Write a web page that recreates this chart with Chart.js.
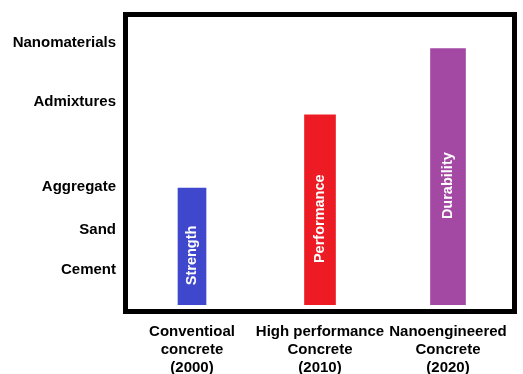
<!DOCTYPE html>
<html>
<head>
<meta charset="utf-8">
<script src="https://cdn.jsdelivr.net/npm/chart.js@4.4.1/dist/chart.umd.min.js"></script>
<style>
  html, body { margin: 0; padding: 0; background: #ffffff; }
  #wrap { width: 523px; height: 374px; }
</style>
</head>
<body>
<div id="wrap"><canvas id="c" width="523" height="374"></canvas></div>
<script>
// Concrete generations along the x axis
const categories = [
  ['Conventioal', 'concrete', '(2000)'],
  ['High performance', 'Concrete', '(2010)'],
  ['Nanoengineered', 'Concrete', '(2020)']
];
// Level reached by each generation and the word written inside its bar
const barValues = [40.5, 66, 89];
const barWords = ['Strength', 'Performance', 'Durability'];
const barColors = ['#3F48CC', '#ED1C24', '#A349A4'];
const barWidths = [28, 31, 35];

// Ingredient levels on the y axis
const tickValues = [12, 26, 41, 70.5, 91];
const tickLabels = ['Cement', 'Sand', 'Aggregate', 'Admixtures', 'Nanomaterials'];

const FONT = '"Liberation Sans", Arial, sans-serif';

const datasets = barValues.map((v, i) => ({
  label: barWords[i],
  data: barValues.map((_, j) => (j === i ? v : null)),
  backgroundColor: barColors[i],
  barThickness: barWidths[i],
  borderWidth: 0,
  grouped: false,
  skipNull: true
}));

// Thick frame around the plot area
const framePlugin = {
  id: 'frame',
  afterDraw(chart) {
    const a = chart.chartArea;
    const ctx = chart.ctx;
    ctx.save();
    ctx.lineWidth = 5;
    ctx.strokeStyle = '#000000';
    ctx.strokeRect(a.left - 2.5, a.top - 2.5, a.right - a.left + 5, a.bottom - a.top + 5);
    ctx.restore();
  }
};

// Vertical white word inside each bar
const barTextPlugin = {
  id: 'barText',
  afterDatasetsDraw(chart) {
    const ctx = chart.ctx;
    chart.data.datasets.forEach((ds, i) => {
      const meta = chart.getDatasetMeta(i);
      const el = meta.data[i];
      if (!el) return;
      const cx = el.x;
      const cy = (el.y + el.base) / 2 + 9;
      ctx.save();
      ctx.translate(cx, cy);
      ctx.rotate(-Math.PI / 2);
      ctx.fillStyle = '#ffffff';
      ctx.font = 'bold 14.5px ' + FONT;
      ctx.textAlign = 'center';
      ctx.textBaseline = 'middle';
      ctx.fillText(ds.label, 0, 0);
      ctx.restore();
    });
  }
};

new Chart(document.getElementById('c'), {
  type: 'bar',
  data: { labels: categories, datasets },
  options: {
    responsive: false,
    animation: false,
    layout: { padding: { top: 17, right: 11, left: 0, bottom: 0 } },
    plugins: {
      legend: { display: false },
      tooltip: { enabled: false }
    },
    scales: {
      x: {
        grid: { display: false, drawTicks: false },
        border: { display: false },
        ticks: {
          color: '#000000',
          font: { family: FONT, size: 15, weight: 'bold', lineHeight: 1.2 },
          padding: 14,
          maxRotation: 0,
          autoSkip: false
        },
        afterFit(scale) { scale.height = 65; }
      },
      y: {
        min: -1.5,
        max: 100,
        grid: { display: false, drawTicks: false },
        border: { display: false },
        afterBuildTicks(scale) {
          scale.ticks = tickValues.map(v => ({ value: v }));
        },
        ticks: {
          color: '#000000',
          font: { family: FONT, size: 15, weight: 'bold' },
          padding: 12,
          autoSkip: false,
          callback(value, index) { return tickLabels[index]; }
        },
        afterFit(scale) {
          scale.width = 128;
          scale.paddingTop = 0;
          scale.paddingBottom = 0;
        }
      }
    }
  },
  plugins: [framePlugin, barTextPlugin]
});
</script>
</body>
</html>
